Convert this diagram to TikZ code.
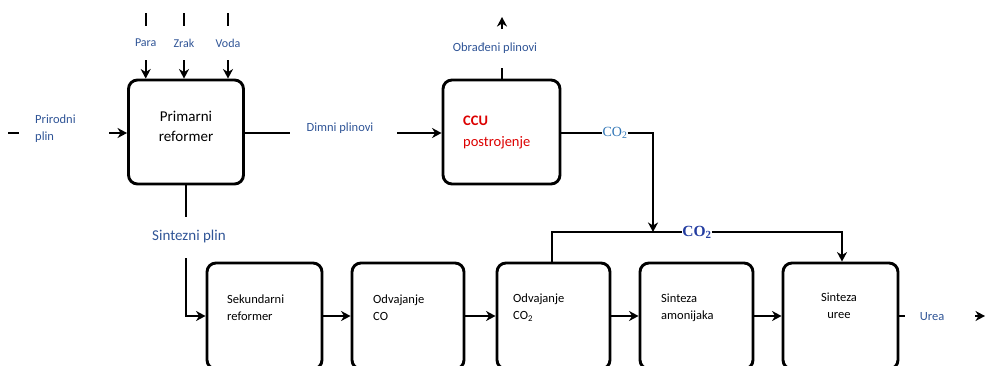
\documentclass[tikz,border=0pt]{standalone}
\usepackage{fontspec}
\setmainfont{Carlito}
\newfontfamily\seriffont{Liberation Serif}
\usetikzlibrary{arrows.meta}
\definecolor{lblue}{RGB}{47,84,150}
\definecolor{cotwo}{RGB}{46,116,181}
\definecolor{cotwob}{RGB}{35,60,160}
\definecolor{ccured}{RGB}{220,0,0}
\tikzset{
  proc/.style={draw, line width=2.9pt, rounded corners=9pt, inner sep=0pt},
  conn/.style={line width=2.2pt},
  arr/.style={line width=2.2pt, -{Stealth[length=9.5pt,width=10pt,inset=3pt]}},
  lab/.style={text=lblue, font=\fontsize{12.5}{15}\selectfont, inner sep=0pt},
  boxtxt/.style={font=\fontsize{12.5}{17}\selectfont, align=left, anchor=west, inner sep=0pt},
}
\begin{document}
\begin{tikzpicture}[x=1pt,y=-1pt]
\useasboundingbox (0,0) rectangle (985,365);
\clip (0,0) rectangle (985,365);
% process boxes
\node[proc, minimum width=115pt, minimum height=104pt] (prim) at (186,132) {};
\node[proc, minimum width=117pt, minimum height=104pt] (ccu) at (501.5,132) {};
\node[proc, minimum width=115pt, minimum height=106pt] (sek) at (264.5,316) {};
\node[proc, minimum width=112pt, minimum height=106pt] (odco) at (408,316) {};
\node[proc, minimum width=113pt, minimum height=106pt] (odcot) at (553.5,316) {};
\node[proc, minimum width=113pt, minimum height=106pt] (amon) at (696.5,316) {};
\node[proc, minimum width=115pt, minimum height=106pt] (uree) at (840.5,316) {};
% box texts
\node[font=\fontsize{15}{20}\selectfont, align=center, inner sep=0pt] (primt) at (186,126) {Primarni\\reformer};
\node[font=\fontsize{14.5}{21}\selectfont, align=left, anchor=west, text=ccured, inner sep=0pt] (ccut) at (463,132) {\textbf{CCU}\\postrojenje};
\node[boxtxt] (sekt) at (227,307.5) {Sekundarni\\reformer};
\node[boxtxt] (odcot1) at (373,307.5) {Odvajanje\\CO};
\node[boxtxt] (odcott) at (513,307.5) {Odvajanje\\CO\textsubscript{2}};
\node[boxtxt] (amont) at (661,307.5) {Sinteza\\amonijaka};
\node[boxtxt, align=center, anchor=center] (ureet) at (839,305.5) {Sinteza\\uree};
% top inputs
\node[lab, font=\fontsize{12}{14}\selectfont] (para) at (145.7,43) {Para};
\node[lab, font=\fontsize{12}{14}\selectfont] (zrak) at (184,43) {Zrak};
\node[lab, font=\fontsize{12}{14}\selectfont] (voda) at (228,43) {Voda};
\foreach \n/\x in {para/145.7, zrak/184, voda/228}{
  \coordinate (\n a) at (\x,13);
  \coordinate (\n b) at (\x,26);
  \coordinate (\n c) at (\x,60);
  \draw[conn] (\n a) -- (\n b);
  \draw[arr] (\n c) -- (\n c |- prim.north);
}
% Prirodni plin
\coordinate (pp1) at (8,133);
\coordinate (pp2) at (19,133);
\coordinate (pp3) at (109,133);
\draw[conn] (pp1) -- (pp2);
\node[lab, align=left, anchor=west, font=\fontsize{12.5}{17}\selectfont] (ppl) at (35,129) {Prirodni\\plin};
\draw[arr] (pp3) -- (prim.west |- pp3);
% Dimni plinovi
\coordinate (dp1) at (290,133);
\coordinate (dp2) at (397,133);
\node[lab] (dpl) at (340,128) {Dimni plinovi};
\draw[conn] (prim.east |- dp1) -- (dp1);
\draw[arr] (dp2) -- (ccu.west |- dp2);
% Obradeni plinovi
\coordinate (op1) at (502,68);
\coordinate (op2) at (502,29);
\coordinate (op3) at (502,17);
\node[lab] (opl) at (495,48) {Obrađeni plinovi};
\draw[conn] (op1) -- (op1 |- ccu.north);
\draw[arr] (op2) -- (op3);
% CO2 from CCU
\node[text=cotwo, font=\seriffont\fontsize{14}{16}\selectfont, inner sep=0pt] (co2a) at (615,133) {CO\textsubscript{2}};
\coordinate (ca1) at (653,133);
\coordinate (ca2) at (653,232);
\draw[conn] (ccu.east |- co2a) -- (co2a.west);
\draw[arr] (co2a.east) -- (ca1) -- (ca2);
% CO2 distribution
\node[text=cotwob, font=\seriffont\bfseries\fontsize{15.5}{18}\selectfont, inner sep=0pt] (co2b) at (697,232) {CO\textsubscript{2}};
\coordinate (cb1) at (552,232);
\coordinate (cb2) at (842,232);
\draw[conn] (cb1 |- odcot.north) -- (cb1) -- (co2b.west);
\draw[arr] (co2b.east) -- (cb2) -- (cb2 |- uree.north);
% Sintezni plin
\node[lab, font=\fontsize{15}{18}\selectfont] (spl) at (189,236) {Sintezni plin};
\coordinate (sp1) at (186,217);
\coordinate (sp2) at (186,258);
\coordinate (sp3) at (186,316);
\draw[conn] (prim.south -| sp1) -- (sp1);
\draw[arr] (sp2) -- (sp3) -- (sek.west |- sp3);
% chain
\draw[arr] (sek.east) -- (odco.west);
\draw[arr] (odco.east) -- (odcot.west);
\draw[arr] (odcot.east) -- (amon.west);
\draw[arr] (amon.east) -- (uree.west);
% Urea
\coordinate (u1) at (905,316);
\coordinate (u2) at (975,316);
\coordinate (u3) at (985,316);
\node[lab] (ul) at (932,317) {Urea};
\draw[conn] (uree.east) -- (u1);
\draw[arr] (u2) -- (u3);
\end{tikzpicture}
\end{document}
